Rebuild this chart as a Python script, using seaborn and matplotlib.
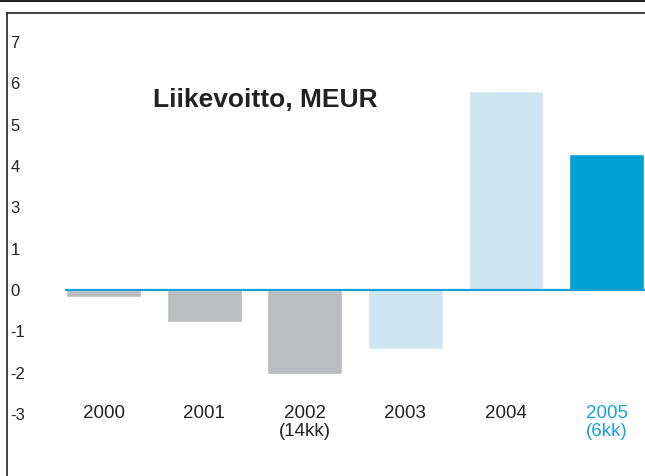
import matplotlib
matplotlib.use("Agg")
import matplotlib.pyplot as plt
from matplotlib.lines import Line2D
import seaborn as sns
import pandas as pd

# values (in axis units, tick spacing = 1)
years = ["2000", "2001", "2002", "2003", "2004", "2005"]
sub_labels = ["", "", "(14kk)", "", "", "(6kk)"]
profit = [-0.17, -0.77, -2.03, -1.43, 4.82, 3.29]
bar_colors = ["#bcbdc1", "#bcbdc1", "#bcbdc1", "#cfe5f1", "#cfe5f1", "#00a1d3"]
label_colors = ["#222222"] * 5 + ["#1aa3d9"]

# y tick labels exactly as printed in the original
ytick_pos = [-3, -2, -1, 0, 1, 2, 3, 4, 5, 6]
ytick_labels = ["-3", "-2", "-1", "0", "1", "3", "4", "5", "6", "7"]

sns.set_style("white")
plt.rcParams["font.family"] = ["Liberation Sans", "DejaVu Sans"]

df = pd.DataFrame({"year": years, "profit": profit})

fig = plt.figure(figsize=(6.45, 4.76), dpi=100)
# axes run a little past the right edge so no border shows there
ax = fig.add_axes([7 / 645, 0, 1 - 7 / 645 + 0.02, 1 - 13 / 476])

sns.barplot(data=df, x="year", y="profit", hue="year", palette=bar_colors,
            width=0.745, saturation=1, legend=False, ax=ax, zorder=2)

# zero line in blue
ax.plot([-0.38, 5.6], [0, 0], color="#1aa0d8", lw=1.6, zorder=3, solid_capstyle="butt")

ax.set_xlim(-0.96, -0.96 + (638 + 12.9) / 100.6)
ax.set_ylim(-4.5, 6.7)
ax.set_xlabel("")
ax.set_ylabel("")
ax.set_xticks([])
ax.set_yticks(ytick_pos)
ax.set_yticklabels(ytick_labels, fontsize=12, color="#222222")
ax.tick_params(axis="y", direction="in", length=0, pad=-2.5)
for lab in ax.get_yticklabels():
    lab.set_horizontalalignment("left")

for s in ["right", "bottom"]:
    ax.spines[s].set_visible(False)
for s in ["left", "top"]:
    ax.spines[s].set_color("#222222")
    ax.spines[s].set_linewidth(1.2)

# category labels inside the plot area
for i, (yr, sub, c) in enumerate(zip(years, sub_labels, label_colors)):
    ax.text(i, -3.1, yr, ha="center", va="baseline", fontsize=13.5, color=c)
    if sub:
        ax.text(i, -3.54, sub, ha="center", va="baseline", fontsize=13.5, color=c)

fig.text(153 / 645, 1 - 107 / 476, "Liikevoitto, MEUR", ha="left", va="baseline",
         fontsize=19, fontweight="bold", color="#222222")

# thin rule at the very top of the page
fig.add_artist(Line2D([0, 1], [1 - 0.5 / 476, 1 - 0.5 / 476], color="#222222", lw=1.5))

fig.savefig("out.png", dpi=100)
